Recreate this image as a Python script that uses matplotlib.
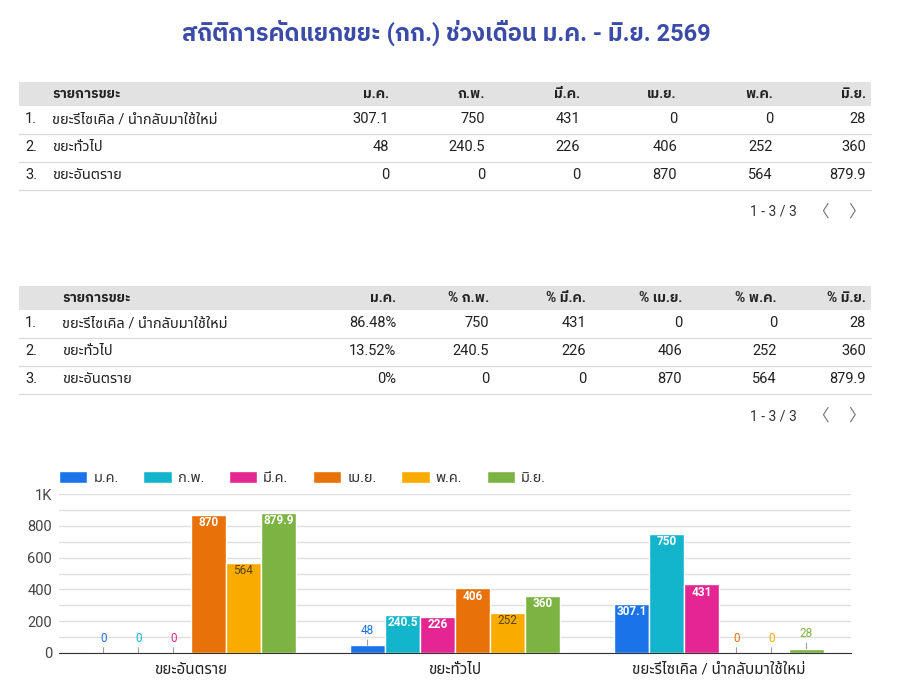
import matplotlib
matplotlib.use("Agg")
import matplotlib.pyplot as plt
from matplotlib import font_manager as fm
from matplotlib.patches import Rectangle
from matplotlib.lines import Line2D

# ข้อมูล
months = ["ม.ค.", "ก.พ.", "มี.ค.", "เม.ย.", "พ.ค.", "มิ.ย."]
share_headers = ["ม.ค.", "% ก.พ.", "% มี.ค.", "% เม.ย.", "% พ.ค.", "% มิ.ย."]
waste_types = ["ขยะรีไซเคิล / นำกลับมาใช้ใหม่", "ขยะทั่วไป", "ขยะอันตราย"]
recycle = [307.1, 750, 431, 0, 0, 28]
general = [48, 240.5, 226, 406, 252, 360]
hazardous = [0, 0, 0, 870, 564, 879.9]
jan_share = ["86.48%", "13.52%", "0%"]
y_ticks = [0, 200, 400, 600, 800, 1000]
y_tick_labels = ["0", "200", "400", "600", "800", "1K"]
colors = ["#1a73e8", "#12b5cb", "#e52592", "#e8710a", "#f9ab00", "#7cb342"]

title = "สถิติการคัดแยกขยะ (กก.) ช่วงเดือน ม.ค. - มิ.ย. 2569"


def weight_num(w):
    if isinstance(w, int):
        return w
    return {"bold": 700, "semibold": 600, "demibold": 600, "heavy": 800,
            "black": 900, "extra bold": 800}.get(str(w).lower(), 400)


fonts = fm.fontManager.ttflist
installed = {f.name for f in fonts}
with_bold = {f.name for f in fonts
             if weight_num(f.weight) >= 600 and "[" not in f.fname}


def first_font(names, pool):
    for n in names:
        if n in pool:
            return n
    return "DejaVu Sans"


thai = first_font(["Noto Sans Thai", "Sarabun", "Prompt", "Kanit",
                   "Bai Jamjuree"], installed)
thai_bold = first_font(["Noto Sans Thai", "IBM Plex Sans Thai", "Prompt",
                        "Kanit", "Bai Jamjuree", "Sarabun"], with_bold)
fam = ["Roboto", thai, "DejaVu Sans"]
fam_bold = ["Roboto", thai_bold, "DejaVu Sans"]
plt.rcParams["font.family"] = fam

W, H = 902, 696


def fx(x):
    return x / W


def fy(y):
    return 1 - y / H


def fmt(v):
    return "{:g}".format(v)


fig = plt.figure(figsize=(W / 100, H / 100), dpi=100)

fig.text(fx(446), fy(33), title, ha="center", va="center", fontsize=17,
         fontweight="bold", color="#3b4ba8", family=fam_bold)


def draw_table(top, name_x, col_rights, headers, rows):
    fig.add_artist(Rectangle((fx(19), fy(top + 24)), (871 - 19) / W, 24 / H,
                             transform=fig.transFigure, facecolor="#e2e2e2",
                             edgecolor="none"))
    hy = top + 12.5
    fig.text(fx(name_x), fy(hy), "รายการขยะ", ha="left", va="center",
             fontsize=10, fontweight="bold", color="#212121", family=fam_bold)
    for h, xr in zip(headers, col_rights):
        fig.text(fx(xr), fy(hy), h, ha="right", va="center", fontsize=10,
                 fontweight="bold", color="#212121", family=fam_bold)
    for i, (name, vals) in enumerate(rows):
        ry = top + 37 + i * 28
        fig.text(fx(25), fy(ry), f"{i + 1}.", ha="left", va="center",
                 fontsize=10.5, color="#212121")
        fig.text(fx(name_x), fy(ry), name, ha="left", va="center",
                 fontsize=10.5, color="#212121")
        for v, xr in zip(vals, col_rights):
            fig.text(fx(xr), fy(ry), v, ha="right", va="center",
                     fontsize=10.5, color="#212121")
        ly = ry + 14.5
        fig.add_artist(Line2D([fx(19), fx(871)], [fy(ly), fy(ly)],
                              transform=fig.transFigure, color="#dcdcdc", lw=1))
    py = top + 130
    fig.text(fx(773), fy(py), "1 - 3 / 3", ha="center", va="center",
             fontsize=10, color="#333333")
    fig.text(fx(821), fy(py), "〈", ha="center", va="center", fontsize=12,
             color="#757575", family=["Noto Sans CJK JP", "DejaVu Sans"])
    fig.text(fx(856), fy(py), "〉", ha="center", va="center", fontsize=12,
             color="#757575", family=["Noto Sans CJK JP", "DejaVu Sans"])


table_rows = list(zip(waste_types, [recycle, general, hazardous]))
rows1 = [(n, [fmt(v) for v in vals]) for n, vals in table_rows]
draw_table(82, 52, [389, 485, 580, 677, 773, 866], months, rows1)

rows2 = [(n, [s] + [fmt(v) for v in vals[1:]])
         for (n, vals), s in zip(table_rows, jan_share)]
draw_table(286, 62, [396, 489, 586, 682, 777, 866], share_headers, rows2)

# กราฟแท่ง
ax = fig.add_axes([fx(59), fy(653), (851 - 59) / W, (653 - 494) / H])
categories = waste_types[::-1]
series = list(zip(hazardous, general, recycle))  # per month, per category
n = len(months)
bw = 35 / 264
for i, (m, c) in enumerate(zip(months, colors)):
    xs = [k + (i - (n - 1) / 2) * bw for k in range(len(categories))]
    vals = series[i]
    ax.bar(xs, vals, width=bw, color=c, edgecolor="white", linewidth=1,
           label=m, zorder=3)
    for x, v in zip(xs, vals):
        if v >= 100:
            tc = "#5a4500" if c == "#f9ab00" else "white"
            fw = "normal" if c == "#f9ab00" else "bold"
            ax.annotate(fmt(v), (x, v), xytext=(0, -5.5),
                        textcoords="offset points", ha="center", va="center",
                        fontsize=8.5, fontweight=fw, color=tc, zorder=4)
        else:
            ax.annotate(fmt(v), (x, v), xytext=(0, 10.5),
                        textcoords="offset points", ha="center", va="center",
                        fontsize=8.5, color=c, zorder=4,
                        arrowprops=dict(arrowstyle="-", color="#9e9e9e",
                                        lw=0.8, shrinkA=0, shrinkB=0))

ax.set_xlim(-0.5, len(categories) - 0.5)
ax.set_ylim(0, 1000)
ax.set_yticks(y_ticks)
ax.set_yticklabels(y_tick_labels, fontsize=10.5, color="#444444")
ax.set_yticks(range(100, 1001, 100), minor=True)
ax.grid(axis="y", which="both", color="#e0e0e0", lw=1, zorder=0)
ax.set_xticks(range(len(categories)))
ax.set_xticklabels(categories, fontsize=11, color="#222222")
ax.tick_params(axis="both", which="both", length=0)
ax.tick_params(axis="y", pad=5)
ax.tick_params(axis="x", pad=7)
for s in ["top", "right", "left"]:
    ax.spines[s].set_visible(False)
ax.spines["bottom"].set_color("#333333")
ax.spines["bottom"].set_zorder(5)

ax.legend(loc="lower left", bbox_to_anchor=(0, 1.055), ncol=6, frameon=False,
          borderpad=0, borderaxespad=0, handlelength=1.95, handleheight=0.9,
          handletextpad=0.4, columnspacing=1.7, fontsize=10.5,
          labelcolor="#333333")

fig.savefig("out.png", dpi=100)
